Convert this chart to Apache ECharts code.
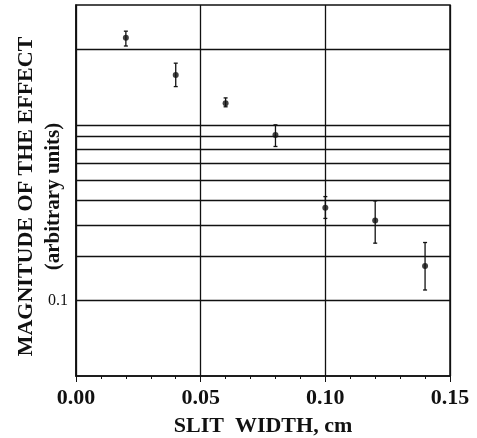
<!DOCTYPE html>
<html>
<head>
<meta charset="utf-8">
<script src="https://cdn.jsdelivr.net/npm/echarts@6/dist/echarts.min.js"></script>
<style>
  html, body { margin: 0; padding: 0; background: #fff; }
  #chart { width: 477px; height: 438px; }
</style>
</head>
<body>
<div id="chart"></div>
<script>
const slitWidth = [0.02, 0.04, 0.06, 0.08, 0.10, 0.12, 0.14];
const magnitude = [1.11, 0.79, 0.61, 0.455, 0.234, 0.208, 0.137];
const errLow = [1.03, 0.71, 0.59, 0.41, 0.212, 0.169, 0.110];
const errHigh = [1.18, 0.88, 0.64, 0.50, 0.259, 0.249, 0.170];
// horizontal rulings of the original graph paper
const gridValues = [0.1, 0.15, 0.2, 0.25, 0.3, 0.35, 0.4, 0.45, 0.5, 1.0];
const labeledValue = 0.1;

const serif = '"Liberation Serif", "Times New Roman", serif';
const ink = "#111";

const chart = echarts.init(document.getElementById("chart"));

const points = slitWidth.map((x, i) => [x, magnitude[i]]);
const bars = slitWidth.map((x, i) => [x, errLow[i], errHigh[i]]);

chart.setOption({
  animation: false,
  grid: {
    left: 76, right: 27, top: 5, bottom: 62,
    outerBoundsMode: "none",
    containLabel: false,
    show: true, borderColor: ink, borderWidth: 1.5
  },
  xAxis: {
    type: "value",
    min: 0,
    max: 0.15,
    interval: 0.05,
    name: "SLIT  WIDTH, cm",
    nameLocation: "middle",
    nameGap: 39,
    nameTextStyle: { fontFamily: serif, fontWeight: "bold", fontSize: 22, color: ink },
    axisLine: { lineStyle: { color: ink, width: 1.5 } },
    axisTick: { show: true, length: 6, lineStyle: { color: ink } },
    minorTick: { show: true, splitNumber: 5, length: 3, lineStyle: { color: ink } },
    axisLabel: {
      margin: 11,
      fontFamily: serif,
      fontWeight: "bold",
      fontSize: 22,
      color: ink,
      formatter: (v) => v.toFixed(2)
    },
    splitLine: { show: true, lineStyle: { color: ink, width: 1.3 } }
  },
  yAxis: {
    type: "log",
    logBase: 10,
    min: 0.05,
    max: 1.5,
    name: "{a|MAGNITUDE OF THE EFFECT}\n{b|(arbitrary units)}",
    nameLocation: "middle",
    nameGap: 9,
    nameTextStyle: {
      color: ink,
      padding: [0, 12, 0, 0],
      rich: {
        a: { fontFamily: serif, fontWeight: "bold", fontSize: 22, lineHeight: 27, color: ink },
        b: { fontFamily: serif, fontWeight: "bold", fontSize: 21, lineHeight: 27, color: ink }
      }
    },
    axisLine: { show: true, lineStyle: { color: ink, width: 1.5 } },
    axisTick: { show: false },
    axisLabel: { show: false },
    splitLine: { show: false }
  },
  series: [
    {
      type: "custom",
      data: bars,
      z: 3,
      renderItem: (params, api) => {
        const top = api.coord([api.value(0), api.value(2)]);
        const bot = api.coord([api.value(0), api.value(1)]);
        const cap = 2;
        const style = { stroke: ink, lineWidth: 1.3 };
        return {
          type: "group",
          children: [
            { type: "line", shape: { x1: top[0], y1: top[1], x2: bot[0], y2: bot[1] }, style },
            { type: "line", shape: { x1: top[0] - cap, y1: top[1], x2: top[0] + cap, y2: top[1] }, style },
            { type: "line", shape: { x1: bot[0] - cap, y1: bot[1], x2: bot[0] + cap, y2: bot[1] }, style }
          ]
        };
      }
    },
    {
      type: "scatter",
      data: points,
      symbol: "circle",
      symbolSize: 6,
      z: 4,
      itemStyle: { color: ink },
      markLine: {
        silent: true,
        symbol: ["none", "none"],
        lineStyle: { color: ink, width: 1.3, type: "solid" },
        label: { show: false },
        emphasis: { disabled: true },
        data: gridValues.map((v) => ({
          yAxis: v,
          label: {
            show: v === labeledValue,
            position: "start",
            distance: 8,
            formatter: String(v),
            fontFamily: serif,
            fontSize: 16,
            color: ink
          }
        }))
      }
    }
  ]
});
</script>
</body>
</html>
